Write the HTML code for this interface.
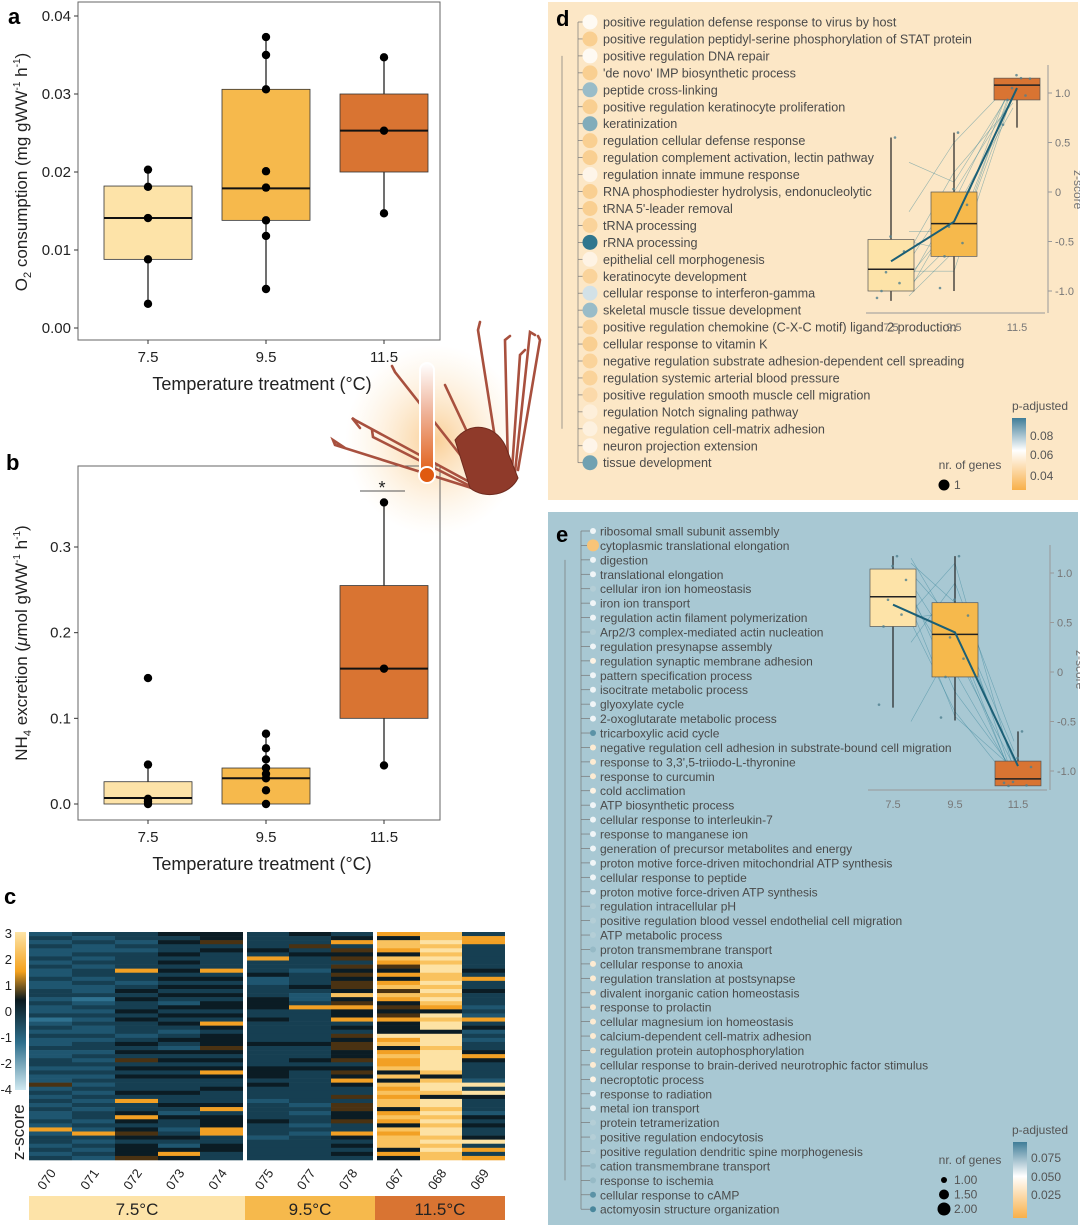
<!DOCTYPE html>
<html><head><meta charset="utf-8">
<style>
body{margin:0;background:#fff;}
svg{display:block;font-family:"Liberation Sans",Arial,sans-serif;}
</style></head>
<body>
<svg id="fig" width="1080" height="1227" viewBox="0 0 1080 1227" xmlns="http://www.w3.org/2000/svg">
<defs>
<radialGradient id="glow" cx="0.5" cy="0.5" r="0.5"><stop offset="0" stop-color="#f9c98a" stop-opacity="0.9"/><stop offset="1" stop-color="#fde8c8" stop-opacity="0"/></radialGradient>
<linearGradient id="zgrad" x1="0" y1="0" x2="0" y2="1"><stop offset="0" stop-color="#fde4a6"/><stop offset="0.25" stop-color="#f4a21f"/><stop offset="0.43" stop-color="#0a1a20"/><stop offset="0.7" stop-color="#2e6f8c"/><stop offset="1" stop-color="#cfe8f0"/></linearGradient>
<linearGradient id="pgrad" x1="0" y1="0" x2="0" y2="1"><stop offset="0" stop-color="#3f7d98"/><stop offset="0.45" stop-color="#ffffff"/><stop offset="1" stop-color="#f8b04a"/></linearGradient>
<linearGradient id="thermo" x1="0" y1="0" x2="0" y2="1"><stop offset="0" stop-color="#fff"/><stop offset="0.4" stop-color="#f0b8a0"/><stop offset="1" stop-color="#e05a10"/></linearGradient>
</defs>
<rect x="548" y="2" width="530" height="498" fill="#fce7c6"/>
<rect x="548" y="512" width="530" height="713" fill="#a8c8d3"/>
<g id="root"></g>
</svg>
<script>
// ---------- data ----------
const tempCats=["7.5","9.5","11.5"];
const o2Points=[[0.0203,0.0181,0.0141,0.0088,0.0031],[0.0373,0.035,0.0306,0.0201,0.018,0.0138,0.0118,0.005],[0.0347,0.0253,0.0147]];
const o2Boxes=[[0.0031,0.0088,0.0141,0.0182,0.0203],[0.005,0.0138,0.0179,0.0306,0.0373],[0.0147,0.020,0.0253,0.030,0.0347]];
const o2Ticks=[0,0.01,0.02,0.03,0.04];
const o2TickLabels=["0.00","0.01","0.02","0.03","0.04"];
const nhPoints=[[0.147,0.046,0.006,0.003,0.0],[0.082,0.065,0.052,0.042,0.035,0.03,0.016,0.0],[0.352,0.158,0.045]];
const nhBoxes=[[0.0,0.0,0.007,0.026,0.046],[0.0,0.0,0.03,0.042,0.082],[0.045,0.1,0.158,0.255,0.352]];
const nhTicks=[0,0.1,0.2,0.3];
const nhTickLabels=["0.0","0.1","0.2","0.3"];
const boxColors=["#fde3a8","#f6b94c","#d97432"];
const heatSamples=["070","071","072","073","074","075","077","078","067","068","069"];
const heatCols=[
"12121121211211221211201212112112212114121212112151221212",
"21211212122121120121212112122121212121212121221215212121",
"22121222252212323223232221232324232322232522353234323334",
"32322323232323232132323212321323232322232232132212321353",
"33423222252323232332325323334323235322322235233355223322",
"22223252223112223332232222232222233323222122223222122222",
"32242322212223211252222222232223232222222212122121222222",
"23524342434344363453352324344334234353224244334225323232",
"53665365435356465343453337563565563636565663565365666353",
"66767676776676767653767737776777776367763776767677676766",
"25522222232522322212152312122353222217273222132322372525"];
const heatColors=["#2f7290","#1f5670","#163f52","#0b1c24","#4a3212","#f2a024","#f9c25e","#fde2a4"];
const dTerms=["positive regulation defense response to virus by host","positive regulation peptidyl-serine phosphorylation of STAT protein","positive regulation DNA repair","'de novo' IMP biosynthetic process","peptide cross-linking","positive regulation keratinocyte proliferation","keratinization","regulation cellular defense response","regulation complement activation, lectin pathway","regulation innate immune response","RNA phosphodiester hydrolysis, endonucleolytic","tRNA 5'-leader removal","tRNA processing","rRNA processing","epithelial cell morphogenesis","keratinocyte development","cellular response to interferon-gamma","skeletal muscle tissue development","positive regulation chemokine (C-X-C motif) ligand 2 production","cellular response to vitamin K","negative regulation substrate adhesion-dependent cell spreading","regulation systemic arterial blood pressure","positive regulation smooth muscle cell migration","regulation Notch signaling pathway","negative regulation cell-matrix adhesion","neuron projection extension","tissue development"];
const dPadj=[0.06,0.04,0.06,0.04,0.075,0.04,0.078,0.04,0.04,0.058,0.04,0.04,0.042,0.088,0.057,0.042,0.068,0.075,0.042,0.04,0.042,0.042,0.045,0.055,0.056,0.058,0.08];
const eTerms=["ribosomal small subunit assembly","cytoplasmic translational elongation","digestion","translational elongation","cellular iron ion homeostasis","iron ion transport","regulation actin filament polymerization","Arp2/3 complex-mediated actin nucleation","regulation presynapse assembly","regulation synaptic membrane adhesion","pattern specification process","isocitrate metabolic process","glyoxylate cycle","2-oxoglutarate metabolic process","tricarboxylic acid cycle","negative regulation cell adhesion in substrate-bound cell migration","response to 3,3',5-triiodo-L-thyronine","response to curcumin","cold acclimation","ATP biosynthetic process","cellular response to interleukin-7","response to manganese ion","generation of precursor metabolites and energy","proton motive force-driven mitochondrial ATP synthesis","cellular response to peptide","proton motive force-driven ATP synthesis","regulation intracellular pH","positive regulation blood vessel endothelial cell migration","ATP metabolic process","proton transmembrane transport","cellular response to anoxia","regulation translation at postsynapse","divalent inorganic cation homeostasis","response to prolactin","cellular magnesium ion homeostasis","calcium-dependent cell-matrix adhesion","regulation protein autophosphorylation","cellular response to brain-derived neurotrophic factor stimulus","necroptotic process","response to radiation","metal ion transport","protein tetramerization","positive regulation endocytosis","positive regulation dendritic spine morphogenesis","cation transmembrane transport","response to ischemia","cellular response to cAMP","actomyosin structure organization"];
const ePadj=[0.05,0.01,0.05,0.05,0.06,0.05,0.05,0.06,0.05,0.04,0.05,0.05,0.05,0.05,0.075,0.035,0.035,0.035,0.04,0.05,0.05,0.05,0.05,0.05,0.05,0.05,0.06,0.06,0.06,0.065,0.035,0.035,0.035,0.035,0.035,0.035,0.035,0.035,0.04,0.05,0.05,0.06,0.06,0.06,0.065,0.065,0.075,0.078];
const eGenes=[1,2,1,1,1,1,1,1,1,1,1,1,1,1,1,1,1,1,1,1,1,1,1,1,1,1,1,1,1,1,1,1,1,1,1,1,1,1,1,1,1,1,1,1,1,1,1,1];
const dBoxes=[[-1.1,-1.0,-0.78,-0.48,0.55],[-1.0,-0.65,-0.32,0.0,0.6],[0.65,0.93,1.08,1.15,1.15]];
const dMeans=[-0.7,-0.3,1.05];
const eBoxes=[[-0.36,0.46,0.76,1.04,1.17],[-0.49,-0.05,0.38,0.7,1.17],[-1.15,-1.15,-1.08,-0.9,-0.6]];
const eMeans=[0.68,0.4,-0.95];
const zTicks=[-1,-0.5,0,0.5,1];
const zTickLabels=["-1.0","-0.5","0","0.5","1.0"];
const dLineStart=[-1.05,-0.9,-0.6,-0.4,-0.95,-0.7,-0.2,-0.8,-1.0,-0.5,0.3,-0.85];
const dLineMid=[-0.6,-0.1,0.2,-0.4,-0.5,0.0,0.5,-0.8,-0.2,-0.6,0.1,-0.3];
const dLineEnd=[1.0,1.1,0.9,1.15,1.05,0.95,1.12,1.0,0.85,1.1,1.05,0.98];
const eLineStart=[1.1,0.9,0.6,0.5,1.0,0.75,0.3,-0.5,0.8,0.55,1.15,0.65];
const eLineMid=[0.7,0.2,1.1,-0.4,0.5,0.0,0.9,0.3,-0.2,0.6,0.4,-0.45];
const eLineEnd=[-1.1,-0.95,-1.0,-1.15,-0.9,-1.05,-0.7,-1.1,-1.0,-0.8,-1.12,-0.98];

// ---------- helpers ----------
const NS="http://www.w3.org/2000/svg";
const root=document.getElementById("root");
function mk(tag,attrs,parent){const e=document.createElementNS(NS,tag);for(const k in attrs)e.setAttribute(k,attrs[k]);(parent||root).appendChild(e);return e;}
function txt(x,y,s,attrs,parent){const e=mk("text",Object.assign({x:x,y:y},attrs||{}),parent);e.textContent=s;return e;}

const glow=mk("ellipse",{cx:435,cy:440,rx:90,ry:95,fill:"url(#glow)"});



function boxPanel(cfg){
  const g=mk("g",{});
  
  
  const y=v=>cfg.y0-(v-cfg.vmin)/(cfg.vmax-cfg.vmin)*(cfg.y0-cfg.y1);
  const xs=[148,266,384];
  const frame=mk("rect",{x:78,y:cfg.top,width:362,height:cfg.bottom-cfg.top,fill:"none",stroke:"#666","stroke-width":1},g);
  
  
  cfg.ticks.forEach((t,i)=>{
    mk("line",{x1:74,x2:78,y1:y(t),y2:y(t),stroke:"#333"},g);
    const l=txt(71,y(t)+5,cfg.tickLabels[i],{"font-size":15,"text-anchor":"end",fill:"#222"},g);
    
    
  });
  tempCats.forEach((c,i)=>{
    mk("line",{x1:xs[i],x2:xs[i],y1:cfg.bottom,y2:cfg.bottom+4,stroke:"#333"},g);
    const l=txt(xs[i],cfg.bottom+22,c,{"font-size":15,"text-anchor":"middle",fill:"#222"},g);
    
    
    const b=cfg.boxes[i];
    mk("line",{x1:xs[i],x2:xs[i],y1:y(b[0]),y2:y(b[4]),stroke:"#111","stroke-width":1.2},g);
    const r=mk("rect",{x:xs[i]-44,y:y(b[3]),width:88,height:Math.max(1,y(b[1])-y(b[3])),fill:boxColors[i],stroke:"#333","stroke-width":0.8},g);
    
    
    mk("line",{x1:xs[i]-44,x2:xs[i]+44,y1:y(b[2]),y2:y(b[2]),stroke:"#111","stroke-width":2},g);
    cfg.points[i].forEach(v=>{
      const p=mk("circle",{cx:xs[i],cy:y(v),r:4.2,fill:"#000"},g);
      
      
    });
  });
  const xt=txt(262,cfg.bottom+50,"Temperature treatment (°C)",{"font-size":18,"text-anchor":"middle",fill:"#222"},g);
  
  
  return {g,y};
}
const pa=boxPanel({name:"panel-a-o2-chart",top:2,bottom:340,y0:328,y1:16,vmin:0,vmax:0.04,ticks:o2Ticks,tickLabels:o2TickLabels,boxes:o2Boxes,points:o2Points});
const ya=txt(0,0,"",{"font-size":17,fill:"#222",transform:"translate(27,172) rotate(-90)","text-anchor":"middle"},pa.g);
ya.innerHTML='O<tspan font-size="11" dy="4">2</tspan><tspan dy="-4"> consumption (mg gWW</tspan><tspan font-size="10" dy="-7">-1</tspan><tspan dy="7"> h</tspan><tspan font-size="10" dy="-7">-1</tspan><tspan dy="7">)</tspan>';


const pb=boxPanel({name:"panel-b-nh4-chart",top:466,bottom:820,y0:804,y1:547,vmin:0,vmax:0.3,ticks:nhTicks,tickLabels:nhTickLabels,boxes:nhBoxes,points:nhPoints});
const yb=txt(0,0,"",{"font-size":17,fill:"#222",transform:"translate(27,643) rotate(-90)","text-anchor":"middle"},pb.g);
yb.innerHTML='NH<tspan font-size="11" dy="4">4</tspan><tspan dy="-4"> excretion (</tspan><tspan font-style="italic">μ</tspan>mol gWW<tspan font-size="10" dy="-7">-1</tspan><tspan dy="7"> h</tspan><tspan font-size="10" dy="-7">-1</tspan><tspan dy="7">)</tspan>';


mk("line",{x1:360,x2:405,y1:491,y2:491,stroke:"#555"},pb.g);
const star=txt(382,494,"*",{"font-size":18,"text-anchor":"middle",fill:"#222"},pb.g);



[["a",8,24],["b",6,470],["c",4,904],["d",556,26],["e",556,542]].forEach(([s,x,y])=>{
  const l=txt(x,y,s,{"font-size":22,"font-weight":"bold",fill:"#000"});
  
  
});

const ill=mk("g",{stroke:"#a8503e","stroke-width":2.6,fill:"none","stroke-linecap":"round"});


["M480,480 L395,372 L392,366","M475,485 L355,420 L352,418 L360,428","M478,490 L335,445 L333,440 L345,448","M482,492 L373,437 L372,430","M485,470 L445,385","M500,470 L478,330 L480,322","M508,468 L505,340 L510,336","M512,470 L520,355 L525,350","M515,472 L530,332 L535,335","M518,470 L540,340 L538,336"].forEach(d=>mk("path",{d:d},ill));
const body=mk("path",{d:"M455,440 C470,420 495,425 505,445 L518,478 C510,495 485,500 470,488 Z",fill:"#8f3a2a",stroke:"#6e2a1e","stroke-width":1},ill);

const th=mk("rect",{x:420,y:363,width:14,height:115,rx:7,fill:"url(#thermo)",stroke:"#fff","stroke-width":2});


mk("circle",{cx:427,cy:475,r:8,fill:"#e05a10",stroke:"#fff","stroke-width":2});

const hm=mk("g",{});


const colX=[29,72,115,158,200,247,289,331,377,420,462];
const colW=[43,43,43,42,43,42,42,42,43,42,43];
const hTop=932,hBot=1160;
heatCols.forEach((s,ci)=>{
  const n=s.length,rh=(hBot-hTop)/n;
  for(let r=0;r<n;r++){
    const c=mk("rect",{x:colX[ci],y:hTop+r*rh,width:colW[ci],height:rh+0.3,fill:heatColors[+s[r]]},hm);
    
    
  }
  const lab=txt(0,0,heatSamples[ci],{"font-size":13,fill:"#222",transform:`translate(${colX[ci]+colW[ci]/2+6},${hBot+13}) rotate(-55)`,"text-anchor":"end"},hm);
  
  
});
const cb=mk("rect",{x:15,y:932,width:11,height:158,fill:"url(#zgrad)"},hm);


["3","2","1","0","-1","-2","-4"].forEach((s,i)=>{
  const l=txt(12,938+i*26,s,{"font-size":13,"text-anchor":"end",fill:"#222"},hm);
  
  
});
const zs=txt(0,0,"z-score",{"font-size":17,fill:"#222",transform:"translate(24,1160) rotate(-90)"},hm);


[[29,216,"#fde3a8","7.5°C"],[245,130,"#f6b94c","9.5°C"],[375,130,"#d97432","11.5°C"]].forEach(([x,w,c,s])=>{
  const r=mk("rect",{x:x,y:1196,width:w,height:24,fill:c},hm);
  
  
  txt(x+w/2,1215,s,{"font-size":17,"text-anchor":"middle",fill:"#222"},hm);
});

function padjColor(p,lo,hi){
  const t=Math.max(0,Math.min(1,(p-lo)/(hi-lo)));
  const lerp=(a,b,u)=>Math.round(a+(b-a)*u);
  let c;
  if(t<0.5){const u=t/0.5;c=[lerp(248,255,u),lerp(196,255,u),lerp(120,255,u)];}
  else{const u=(t-0.5)/0.5;c=[lerp(255,31,u),lerp(255,107,u),lerp(255,133,u)];}
  return `rgb(${c[0]},${c[1]},${c[2]})`;
}
function termList(terms,padj,genes,y0,dy,cx,tx,fs,lo,hi,name,rBase){
  const g=mk("g",{});
  
  
  mk("line",{x1:cx-12,x2:cx-12,y1:y0,y2:y0+dy*(terms.length-1),stroke:"#777","stroke-width":0.7},g);
  mk("line",{x1:cx-28,x2:cx-28,y1:y0+dy*2,y2:y0+dy*(terms.length-3),stroke:"#777","stroke-width":0.7},g);
  terms.forEach((t,i)=>{
    const y=y0+dy*i;
    mk("line",{x1:cx-12,x2:cx-2,y1:y,y2:y,stroke:"#777","stroke-width":0.7},g);
    const r=rBase(genes?genes[i]:1);
    const c=mk("circle",{cx:cx,cy:y,r:r,fill:padjColor(padj[i],lo,hi)},g);
    
    
    const l=txt(tx,y+4.5,t,{"font-size":fs,fill:"#4a4a4a"},g);
    
    
  });
}
termList(dTerms,dPadj,null,22,16.95,590,603,12.6,0.035,0.09,"panel-d-term-list",()=>7.5);
termList(eTerms,ePadj,eGenes,531,14.43,593,600,12,0.01,0.085,"panel-e-term-list",n=>n>1?6:3);

function inset(cfg){
  const g=mk("g",{});
  
  
  const y=v=>cfg.yz-v*cfg.k;
  const xs=cfg.xs;
  mk("line",{x1:cfg.ax,x2:cfg.ax,y1:cfg.top,y2:cfg.bot,stroke:"#999"},g);
  mk("line",{x1:xs[0]-25,x2:cfg.ax-3,y1:cfg.bot,y2:cfg.bot,stroke:"#999"},g);
  zTicks.forEach((t,i)=>{
    mk("line",{x1:cfg.ax,x2:cfg.ax+4,y1:y(t),y2:y(t),stroke:"#999"},g);
    const l=txt(cfg.ax+7,y(t)+4,zTickLabels[i],{"font-size":11,fill:"#777"},g);
    
    
  });
  const zt=txt(0,0,"z-score",{"font-size":12,fill:"#777",transform:`translate(${cfg.ax+26},${y(0)-22}) rotate(90)`},g);
  
  
  tempCats.forEach((c,i)=>{
    const l=txt(xs[i],cfg.bot+18,c,{"font-size":11,"text-anchor":"middle",fill:"#777"},g);
    
    
  });
  cfg.ls.forEach((v,i)=>{
    const p=mk("polyline",{points:`${xs[0]+18},${y(v)} ${xs[1]},${y(cfg.lm[i])} ${xs[2]-4},${y(cfg.le[i])}`,fill:"none",stroke:"#2f7f95","stroke-width":0.6,"stroke-opacity":0.5},g);
    
    
  });
  cfg.boxes.forEach((b,i)=>{
    mk("line",{x1:xs[i],x2:xs[i],y1:y(b[0]),y2:y(b[4]),stroke:"#222","stroke-width":1.2},g);
    const r=mk("rect",{x:xs[i]-23,y:y(b[3]),width:46,height:Math.max(1,y(b[1])-y(b[3])),fill:boxColors[i],stroke:"#555","stroke-width":0.7},g);
    
    
    mk("line",{x1:xs[i]-23,x2:xs[i]+23,y1:y(b[2]),y2:y(b[2]),stroke:"#222","stroke-width":1.5},g);
    [b[0],b[1],b[2],b[3],b[4],(b[1]+b[2])/2,(b[2]+b[3])/2].forEach((v,j)=>{
      mk("circle",{cx:xs[i]-14+j*4.5,cy:y(v)+((j%3)-1)*3,r:1.3,fill:"#4f7f8f","fill-opacity":0.8},g);
    });
  });
  const mean=mk("polyline",{points:xs.map((x,i)=>`${x},${y(cfg.means[i])}`).join(" "),fill:"none",stroke:"#1b5f76","stroke-width":2},g);
  
  
}
inset({name:"panel-d-zscore-inset",xs:[891,954,1017],ax:1048,yz:192,k:99,top:65,bot:313,boxes:dBoxes,means:dMeans,ls:dLineStart,lm:dLineMid,le:dLineEnd});
inset({name:"panel-e-zscore-inset",xs:[893,955,1018],ax:1050,yz:672,k:99,top:545,bot:790,boxes:eBoxes,means:eMeans,ls:eLineStart,lm:eLineMid,le:eLineEnd});

function legend(cfg){
  const g=mk("g",{});
  
  
  txt(cfg.px,cfg.py,"p-adjusted",{"font-size":12,fill:"#555","text-anchor":"middle"},g);
  const bar=mk("rect",{x:cfg.bx,y:cfg.py+8,width:14,height:cfg.bh,fill:"url(#pgrad)"},g);
  
  
  cfg.labels.forEach((s,i)=>txt(cfg.bx+18,cfg.ly[i],s,{"font-size":12,fill:"#555"},g));
  txt(cfg.nx,cfg.ny,"nr. of genes",{"font-size":12,fill:"#555","text-anchor":"middle"},g);
  cfg.sizes.forEach((s,i)=>{
    const c=mk("circle",{cx:cfg.nx-26,cy:cfg.ny+16+i*14.5,r:cfg.r[i],fill:"#000"},g);
    
    
    txt(cfg.nx-16,cfg.ny+20+i*14.5,s,{"font-size":12,fill:"#555"},g);
  });
}
legend({name:"panel-d-legend",px:1040,py:410,bx:1012,bh:72,labels:["0.08","0.06","0.04"],ly:[440,459,480],nx:970,ny:469,sizes:["1"],r:[5.5]});
legend({name:"panel-e-legend",px:1040,py:1134,bx:1013,bh:76,labels:["0.075","0.050","0.025"],ly:[1162,1181,1199],nx:970,ny:1164,sizes:["1.00","1.50","2.00"],r:[3,5,6.5]});
</script>
</body></html>
